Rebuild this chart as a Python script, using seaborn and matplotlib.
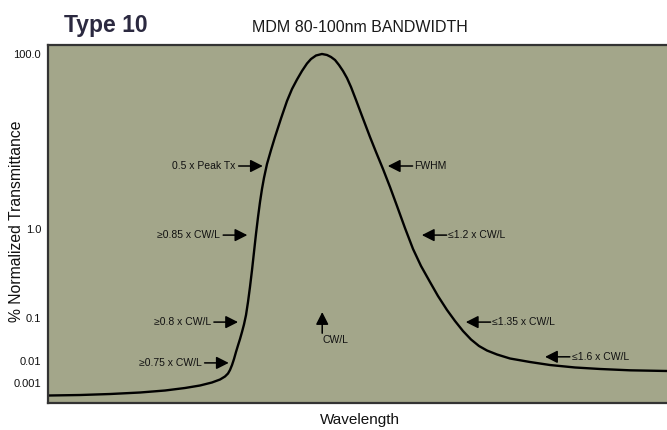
"""
Type 10 filter curve: MDM 80-100nm bandwidth, normalized transmittance
against wavelength, with the spec markers drawn as arrows.
"""

import matplotlib
matplotlib.use("Agg")
import matplotlib.pyplot as plt
import pandas as pd
import seaborn as sns

# curve (wavelength in relative units 0-100,
# transmittance as height on the hand-drawn scale 0-100)
WAVELENGTH = [0.0, 5.17, 10.02, 14.86, 18.90, 22.13, 24.56, 26.49, 27.79,
              28.59, 29.08, 29.40, 29.73, 30.05, 30.37, 30.69, 31.02, 31.34,
              31.66, 31.99, 32.31, 32.63, 32.96, 33.28, 33.60, 33.93, 34.25,
              34.57, 34.89, 35.38, 36.03, 36.67, 37.64, 38.61, 39.42, 40.23,
              41.03, 41.84, 42.49, 43.30, 44.26, 45.07, 45.72, 46.37, 47.01,
              47.66, 48.30, 48.95, 49.76, 50.73, 52.02, 52.99, 54.12, 55.25,
              56.38, 57.67, 58.97, 60.26, 61.71, 63.00, 64.46, 65.75, 67.04,
              68.34, 69.63, 70.92, 72.54, 74.64, 77.87, 81.10, 85.14, 89.18,
              94.02, 100.0]
TRANSMITTANCE = [2.09, 2.23, 2.51, 2.93, 3.49, 4.19, 4.89, 5.73, 6.56,
                 7.40, 8.24, 9.22, 10.61, 12.29, 14.25, 16.06, 17.88, 19.83,
                 21.93, 24.58, 28.21, 32.40, 37.15, 42.18, 47.21, 51.96, 56.15,
                 59.78, 62.85, 66.76, 70.67, 74.30, 79.47, 84.36, 87.71, 90.36,
                 92.74, 94.83, 96.09, 97.07, 97.49, 97.21, 96.65, 95.81, 94.41,
                 92.74, 90.78, 88.27, 84.64, 80.17, 74.30, 70.11, 65.36, 60.34,
                 55.03, 48.88, 43.02, 38.27, 33.80, 29.89, 25.98, 22.91, 20.11,
                 17.74, 15.92, 14.66, 13.55, 12.43, 11.45, 10.61, 9.92, 9.50,
                 9.13, 8.94]

# y axis is not a true log scale: labels sit where the original draws them
Y_TICK_LEVELS = [97.5, 48.6, 23.7, 11.7, 5.6]
Y_TICK_LABELS = ["100.0", "1.0", "0.1", "0.01", "0.001"]

# spec markers: label, arrow tip (wavelength, level)
LEFT_MARKS = [
    ("0.5 x Peak Tx", 34.7, 66.2),
    ("\u22650.85 x CW/L", 32.2, 46.9),
    ("\u22650.8 x CW/L", 30.7, 22.6),
    ("\u22650.75 x CW/L", 29.2, 11.2),
]
RIGHT_MARKS = [
    ("FWHM", 54.9, 66.2),
    ("\u22641.2 x CW/L", 60.4, 46.9),
    ("\u22641.35 x CW/L", 67.5, 22.6),
    ("\u22641.6 x CW/L", 80.3, 12.9),
]
CENTER_MARK = ("CW/L", 44.3, 25.4)

BG = "#a3a68a"
FRAME = "#333333"
FONT = ["Liberation Sans Narrow", "Liberation Sans", "DejaVu Sans"]
ARROW = dict(arrowstyle="-|>,head_length=0.75,head_width=0.38",
             color="black", lw=1.1, shrinkA=0, shrinkB=0)


def draw_marks(ax):
    for label, x, y in LEFT_MARKS:
        ax.annotate("", xy=(x, y), xytext=(x - 3.9, y), arrowprops=ARROW)
        ax.text(x - 4.4, y, label, ha="right", va="center",
                fontsize=7.5, family=FONT, color="#111111")
    for label, x, y in RIGHT_MARKS:
        ax.annotate("", xy=(x, y), xytext=(x + 4.0, y), arrowprops=ARROW)
        ax.text(x + 4.3, y, label, ha="left", va="center",
                fontsize=7.5, family=FONT, color="#111111")
    label, x, y = CENTER_MARK
    ax.annotate("", xy=(x, y), xytext=(x, y - 5.9), arrowprops=ARROW)
    ax.text(x, y - 6.4, label, ha="left", va="top",
            fontsize=7.5, family=FONT, color="#111111")


def main() -> None:
    sns.set_style("white")
    plt.rcParams["font.family"] = FONT

    df = pd.DataFrame({"wavelength": WAVELENGTH,
                       "transmittance": TRANSMITTANCE})

    fig = plt.figure(figsize=(6.67, 4.30), dpi=100)
    ax = fig.add_axes([48 / 667, 1 - 403 / 430, 619 / 667, 358 / 430])
    ax.set_facecolor(BG)

    sns.lineplot(data=df, x="wavelength", y="transmittance", ax=ax,
                 color="black", lw=1.7, sort=False)

    ax.set_xlim(0, 100)
    ax.set_ylim(0, 100)
    ax.set_xticks([])
    ax.set_yticks(Y_TICK_LEVELS)
    ax.set_yticklabels(Y_TICK_LABELS, fontsize=8, color="#111111")
    ax.tick_params(axis="y", length=0, pad=5)

    for side in ["left", "top", "bottom"]:
        ax.spines[side].set_color(FRAME)
        ax.spines[side].set_linewidth(1.6)
    ax.spines["right"].set_visible(False)

    ax.set_xlabel("Wavelength", fontsize=11, color="#111111")
    ax.xaxis.set_label_coords(0.504, -0.028)
    ax.set_ylabel("% Normalized Transmittance", fontsize=11.3,
                  color="#111111")
    ax.yaxis.set_label_coords(-0.038, 0.507)

    draw_marks(ax)

    fig.text(64 / 667, 1 - 32 / 430, "Type 10", fontsize=16.5,
             fontweight="bold", color="#2b2940",
             ha="left", va="baseline")
    fig.text(360 / 667, 1 - 32 / 430, "MDM 80-100nm BANDWIDTH",
             fontsize=11.5, color="#1a1a1a", ha="center", va="baseline")

    fig.savefig("out.png", dpi=100, facecolor="white")
    plt.close(fig)


if __name__ == "__main__":
    main()
